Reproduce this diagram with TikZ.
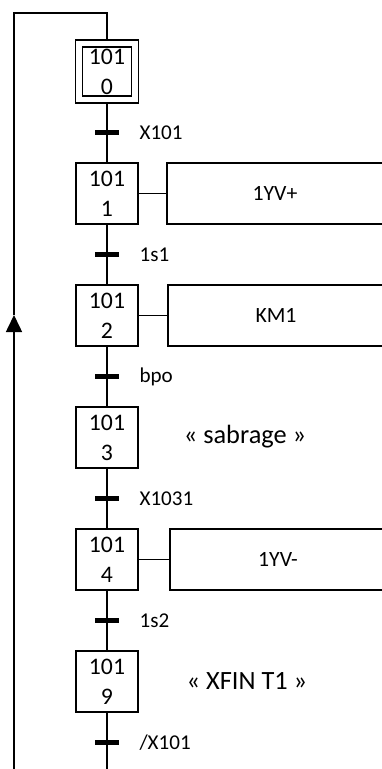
\documentclass[tikz,border=0pt]{standalone}
\usepackage{fontspec}
\setmainfont{Carlito}
\usetikzlibrary{positioning,arrows.meta,fit}

\begin{document}
\begin{tikzpicture}[
        x=0.02cm, y=-0.02cm, % one unit = one pixel, y pointing down
        line width=0.9pt,
        stepbox/.style={draw, minimum width=1.24cm, minimum height=1.22cm,
            inner sep=0pt, align=center, font=\fontsize{13.5}{17}\selectfont},
        initbox/.style={stepbox, minimum width=0.98cm, minimum height=0.98cm},
        actbox/.style={draw, minimum width=4.32cm, minimum height=1.22cm,
            inner sep=0pt, font=\fontsize{12.4}{14}\selectfont},
        trans/.style={fill=black, minimum width=0.48cm, minimum height=0.1cm,
            inner sep=0pt},
        lbl/.style={right=0.38cm of #1, inner sep=0pt, font=\fontsize{12}{14}\selectfont},
        cmt/.style={font=\fontsize{15}{17}\selectfont},
    ]
        \useasboundingbox (0,0) rectangle (382,769);

        % Steps
        \node[initbox] (s0) at (107,71.5) {101\\0};
        \node[draw, fit=(s0), inner sep=3.6pt] (s0o) {};
        \node[stepbox] (s1) at (107,193.5) {101\\1};
        \node[stepbox] (s2) at (107,315.5) {101\\2};
        \node[stepbox] (s3) at (107,437.5) {101\\3};
        \node[stepbox] (s4) at (107,559.5) {101\\4};
        \node[stepbox] (s9) at (107,681.5) {101\\9};

        % Actions
        \node[actbox] (a1) at (275,193.5) {1YV+};
        \node[actbox] (a2) at (276,315.5) {KM1};
        \node[actbox] (a4) at (278,559.5) {1YV-};

        % Comments
        \node[cmt] (c3) at (245,437) {« sabrage »};
        \node[cmt] (c9) at (247,681) {« XFIN T1 »};

        % Links
        \draw (s0o) -- (s1);
        \draw (s1) -- (s2);
        \draw (s2) -- (s3);
        \draw (s3) -- (s4);
        \draw (s4) -- (s9);
        \draw (s1) -- (a1);
        \draw (s2) -- (a2);
        \draw (s4) -- (a4);

        % Loop back to the initial step
        \coordinate (end) at (107,769);
        \coordinate (lb) at (14,769);
        \coordinate (up) at (14,315);
        \coordinate (lt) at (14,13);
        \coordinate (rt) at (107,13);
        \draw (s9) -- (end);
        \draw[-{Triangle[width=0.32cm,length=0.34cm]}] (lb) -- (up);
        \draw (up) -- (lt) -- (rt) -- (s0o);

        % Transitions
        \node[trans] (t0) at (107,132.5) {};
        \node[trans] (t1) at (107,254.5) {};
        \node[trans] (t2) at (107,376.5) {};
        \node[trans] (t3) at (107,498.5) {};
        \node[trans] (t4) at (107,620.5) {};
        \node[trans] (t9) at (107,742.5) {};
        \node[lbl=t0] (r0) {X101};
        \node[lbl=t1] (r1) {1s1};
        \node[lbl=t2] (r2) {bpo};
        \node[lbl=t3] (r3) {X1031};
        \node[lbl=t4] (r4) {1s2};
        \node[lbl=t9] (r9) {/X101};

    \end{tikzpicture}
\end{document}
